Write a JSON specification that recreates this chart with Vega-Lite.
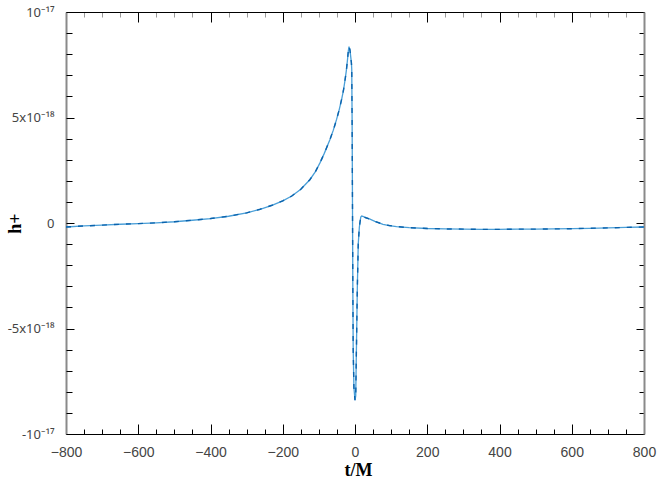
{
  "$schema": "https://vega.github.io/schema/vega-lite/v6.json",
  "autosize": "none",
  "padding": {"left": 66, "top": 12, "right": 14, "bottom": 57},
  "width": 578,
  "height": 422,
  "background": "white",
  "config": {"view": {"stroke": null}},
  "data": {"values": [
    {"t": -800, "h": -1.9e-19}, {"t": -750, "h": -1.4e-19}, {"t": -700, "h": -1.0e-19},
    {"t": -650, "h": -6e-20}, {"t": -600, "h": -3e-20}, {"t": -550, "h": 1e-20},
    {"t": -500, "h": 6e-20}, {"t": -450, "h": 1.3e-19}, {"t": -400, "h": 2.1e-19},
    {"t": -350, "h": 3.2e-19}, {"t": -300, "h": 4.8e-19}, {"t": -263, "h": 6.5e-19},
    {"t": -230, "h": 8.4e-19}, {"t": -200, "h": 1.05e-18}, {"t": -175, "h": 1.28e-18},
    {"t": -150, "h": 1.6e-18}, {"t": -125, "h": 2.05e-18}, {"t": -110, "h": 2.42e-18},
    {"t": -97, "h": 2.85e-18}, {"t": -85, "h": 3.3e-18}, {"t": -69, "h": 3.97e-18},
    {"t": -60, "h": 4.4e-18}, {"t": -51, "h": 4.91e-18}, {"t": -44, "h": 5.35e-18},
    {"t": -37, "h": 5.86e-18}, {"t": -32, "h": 6.28e-18}, {"t": -28, "h": 6.72e-18},
    {"t": -24, "h": 7.22e-18}, {"t": -21, "h": 7.7e-18}, {"t": -18.5, "h": 8.15e-18},
    {"t": -16.6, "h": 8.36e-18}, {"t": -14, "h": 8.2e-18}, {"t": -10, "h": 7.6e-18},
    {"t": -9, "h": 7.28e-18}, {"t": -8, "h": 4.9e-18}, {"t": -7, "h": 1.0e-18},
    {"t": -6, "h": -3.0e-18}, {"t": -5, "h": -6.0e-18}, {"t": -3, "h": -7.8e-18},
    {"t": 0, "h": -8.4e-18}, {"t": 2, "h": -8.2e-18}, {"t": 4.6, "h": -5.2e-18},
    {"t": 6.4, "h": -3.1e-18}, {"t": 9, "h": -1.0e-18}, {"t": 12, "h": -2e-19},
    {"t": 13.8, "h": 3e-20}, {"t": 16, "h": 2.8e-19}, {"t": 18.5, "h": 3.3e-19},
    {"t": 22, "h": 3.1e-19}, {"t": 30, "h": 2.5e-19}, {"t": 41.5, "h": 1.8e-19},
    {"t": 55, "h": 8e-20}, {"t": 77.5, "h": -6e-20}, {"t": 95, "h": -1.2e-19},
    {"t": 115, "h": -1.7e-19}, {"t": 150, "h": -2.2e-19}, {"t": 200, "h": -2.6e-19},
    {"t": 250, "h": -2.8e-19}, {"t": 300, "h": -2.9e-19}, {"t": 350, "h": -3.0e-19},
    {"t": 400, "h": -3.0e-19}, {"t": 450, "h": -2.9e-19}, {"t": 500, "h": -2.9e-19},
    {"t": 550, "h": -2.8e-19}, {"t": 600, "h": -2.7e-19}, {"t": 650, "h": -2.5e-19},
    {"t": 700, "h": -2.3e-19}, {"t": 750, "h": -2.1e-19}, {"t": 800, "h": -1.9e-19}
  ]},
  "resolve": {"axis": {"x": "independent", "y": "independent"}},
  "layer": [
    {
      "mark": {"type": "line", "color": "#4a9fd8", "strokeWidth": 1.3, "clip": true},
      "encoding": {
        "x": {"field": "t", "type": "quantitative", "scale": {"domain": [-800, 800], "nice": false, "zero": false},
          "axis": {"orient": "bottom", "title": "t/M", "values": [-800, -600, -400, -200, 0, 200, 400, 600, 800],
            "ticks": false, "grid": false, "domainColor": "#000000", "domainWidth": 1,
            "labelFont": "Liberation Sans", "labelFontSize": 14, "labelColor": "#444444", "labelPadding": 11,
            "labelFlush": false, "labelOverlap": false,
            "titleFont": "Liberation Serif", "titleFontWeight": "bold", "titleFontSize": 18, "titleColor": "#000000",
            "titleX": 292, "titleY": 41, "titleBaseline": "alphabetic", "titleAlign": "center"}},
        "y": {"field": "h", "type": "quantitative", "scale": {"domain": [-1e-17, 1e-17], "nice": false, "zero": false},
          "axis": {"orient": "left", "title": "h+", "values": [-1e-17, -5e-18, 0, 5e-18, 1e-17],
            "labelExpr": "datum.value > 9e-18 ? '10⁻¹⁷' : datum.value > 4e-18 ? '5x10⁻¹⁸' : datum.value > -1e-18 ? '0' : datum.value > -6e-18 ? '-5x10⁻¹⁸' : '-10⁻¹⁷'",
            "ticks": false, "grid": false, "domainColor": "#8a8a8a", "domainWidth": 2,
            "labelFont": "Noto Sans", "labelFontSize": 13, "labelColor": "#444444", "labelPadding": 12,
            "labelFlush": false, "labelOverlap": false,
            "titleFont": "Liberation Serif", "titleFontWeight": "bold", "titleFontSize": 18, "titleColor": "#000000",
            "titleAngle": -90, "titleX": -51, "titleY": 211, "titleAlign": "center", "titleBaseline": "middle"}}
      }
    },
    {
      "mark": {"type": "line", "color": "#0b63ad", "strokeWidth": 1.4, "strokeDash": [5, 7], "clip": true},
      "encoding": {
        "x": {"field": "t", "type": "quantitative", "axis": null},
        "y": {"field": "h", "type": "quantitative", "axis": null}
      }
    },
    {
      "mark": {"type": "line", "strokeOpacity": 0},
      "encoding": {
        "x": {"field": "t", "type": "quantitative",
          "axis": {"orient": "bottom", "title": null, "labels": false, "domain": false, "grid": false,
            "values": [-800, -750, -700, -650, -600, -550, -500, -450, -400, -350, -300, -250, -200, -150, -100, -50, 0, 50, 100, 150, 200, 250, 300, 350, 400, 450, 500, 550, 600, 650, 700, 750, 800],
            "tickColor": "#000000", "tickWidth": 1,
            "tickSize": {"condition": {"test": "datum.value % 200 === 0", "value": -10}, "value": -5}}},
        "y": {"field": "h", "type": "quantitative",
          "axis": {"orient": "left", "title": null, "labels": false, "domain": false, "grid": false,
            "values": [-1e-17, -9e-18, -8e-18, -7e-18, -6e-18, -5e-18, -4e-18, -3e-18, -2e-18, -1e-18, 0, 1e-18, 2e-18, 3e-18, 4e-18, 5e-18, 6e-18, 7e-18, 8e-18, 9e-18, 1e-17],
            "tickColor": "#000000", "tickWidth": 1,
            "tickSize": {"condition": {"test": "abs(round(datum.value * 1e18)) % 5 === 0", "value": -8}, "value": -6}}}
      }
    },
    {
      "mark": {"type": "line", "strokeOpacity": 0},
      "encoding": {
        "x": {"field": "t", "type": "quantitative",
          "axis": {"orient": "top", "title": null, "labels": false, "grid": false,
            "domainColor": "#000000", "domainWidth": 1,
            "values": [-800, -750, -700, -650, -600, -550, -500, -450, -400, -350, -300, -250, -200, -150, -100, -50, 0, 50, 100, 150, 200, 250, 300, 350, 400, 450, 500, 550, 600, 650, 700, 750, 800],
            "tickWidth": 1,
            "tickColor": {"condition": {"test": "datum.value % 200 === 0", "value": "#000000"}, "value": "#999999"},
            "tickSize": {"condition": {"test": "datum.value % 200 === 0", "value": -10}, "value": -5}}},
        "y": {"field": "h", "type": "quantitative",
          "axis": {"orient": "right", "title": null, "labels": false, "grid": false,
            "domainColor": "#8a8a8a", "domainWidth": 2,
            "values": [-1e-17, -9e-18, -8e-18, -7e-18, -6e-18, -5e-18, -4e-18, -3e-18, -2e-18, -1e-18, 0, 1e-18, 2e-18, 3e-18, 4e-18, 5e-18, 6e-18, 7e-18, 8e-18, 9e-18, 1e-17],
            "tickColor": "#000000", "tickWidth": 1,
            "tickSize": {"condition": {"test": "abs(round(datum.value * 1e18)) % 5 === 0", "value": -8}, "value": -5}}}
      }
    }
  ]
}
